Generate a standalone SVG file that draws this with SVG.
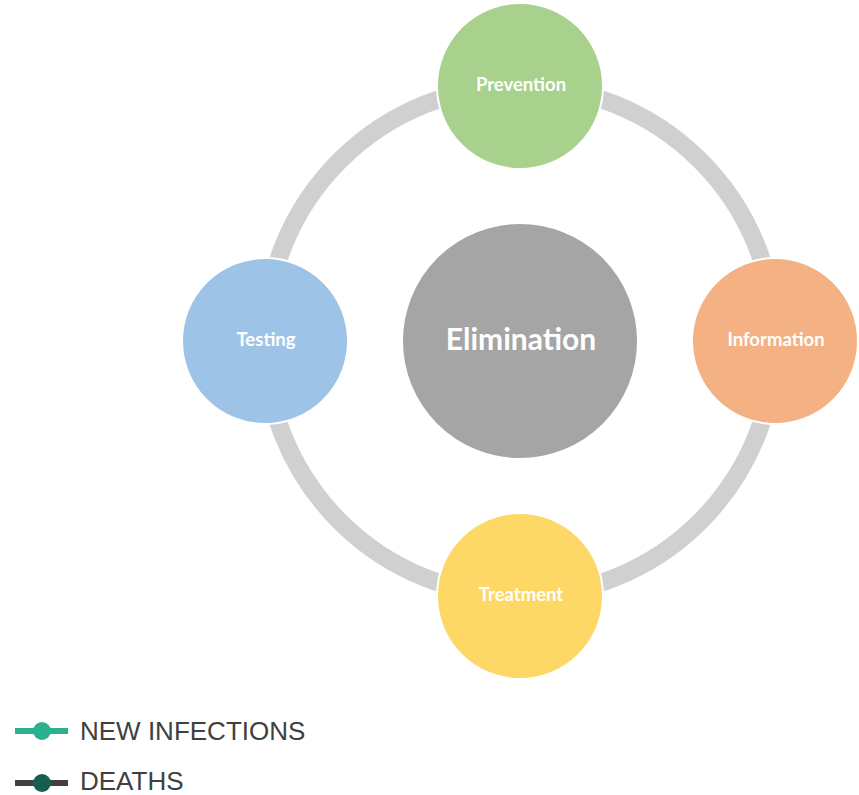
<svg xmlns="http://www.w3.org/2000/svg" width="859" height="795" viewBox="0 0 859 795">
<style>
.lbl{font-family:Lato,"Open Sans","Liberation Sans",sans-serif;font-weight:bold;fill:#fff;text-anchor:middle;dominant-baseline:central}
.node{stroke:#fff;stroke-width:2}
.leg{font-family:"Liberation Sans",Arial,sans-serif;font-size:26px;fill:#404040}
</style>
<rect width="859" height="795" fill="#fff"/>
<g id="connectors">
<circle cx="520" cy="341" r="255" fill="none" stroke="#d0d0d0" stroke-width="18"/>
</g>
<g id="elimination"><circle class="node" cx="520" cy="341" r="118" fill="#a5a5a5"/><text class="lbl" x="521" y="338" font-size="30">Elimination</text></g>
<g id="prevention"><circle class="node" cx="520" cy="86" r="83" fill="#a9d18e"/><text class="lbl" x="521" y="84" font-size="18.5">Prevention</text></g>
<g id="information"><circle class="node" cx="775" cy="341" r="83" fill="#f4b183"/><text class="lbl" x="776" y="339" font-size="18.5">Information</text></g>
<g id="treatment"><circle class="node" cx="520" cy="596" r="83" fill="#fdd866"/><text class="lbl" x="521" y="594" font-size="18.5">Treatment</text></g>
<g id="testing"><circle class="node" cx="265" cy="341" r="83" fill="#9dc3e6"/><text class="lbl" x="266" y="339" font-size="18.5">Testing</text></g>
<g id="legend">
<line x1="15" y1="731" x2="68" y2="731" stroke="#2bb08e" stroke-width="6"/>
<circle cx="42" cy="731" r="9" fill="#2bb08e"/>
<text class="leg" x="80" y="740">NEW INFECTIONS</text>
<line x1="15" y1="783" x2="68" y2="783" stroke="#404040" stroke-width="6"/>
<circle cx="42" cy="783" r="9" fill="#185e50"/>
<text class="leg" x="80" y="790">DEATHS</text>
</g>
</svg>
